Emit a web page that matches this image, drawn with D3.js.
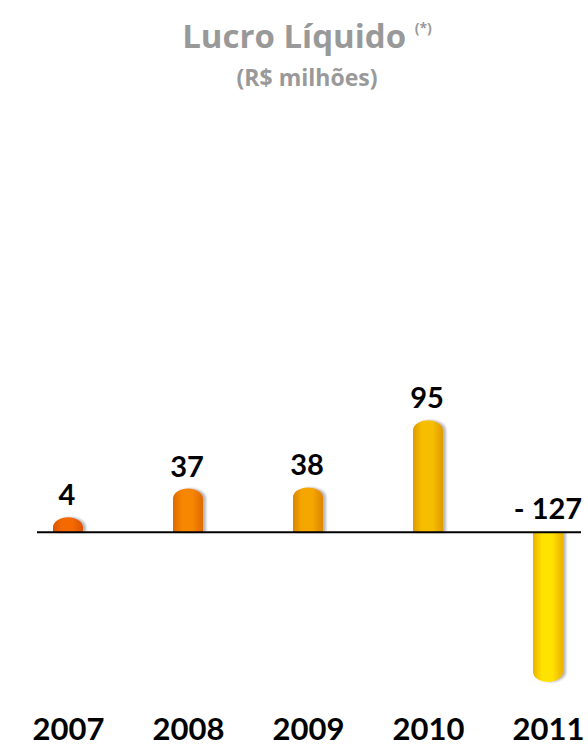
<!DOCTYPE html>
<html>
<head>
<meta charset="utf-8">
<script src="https://cdn.jsdelivr.net/npm/d3@7/dist/d3.min.js"></script>
<style>
  html, body { margin: 0; padding: 0; background: #ffffff; }
  svg { display: block; }
</style>
</head>
<body>
<svg id="chart" width="588" height="746"></svg>
<script>
// Net income by year (R$ millions)
const years = ["2007", "2008", "2009", "2010", "2011"];
const values = [4, 37, 38, 95, -127];
const valueLabels = ["4", "37", "38", "95", "- 127"];
// Bar fill: centre colour and edge colour for each year
const centreColors = ["#F46A00", "#F78600", "#F6A600", "#F7BE00", "#FFE200"];
const edgeColors = ["#D95400", "#DD6A00", "#DB8600", "#DE9A00", "#EDB000"];

const W = 588, H = 746;
const svg = d3.select("#chart");
const font = "Lato, 'Open Sans', 'DejaVu Sans', sans-serif";
const titleFont = "'Open Sans', Lato, 'DejaVu Sans', sans-serif";

const x = d3.scalePoint().domain(years).range([68, 548]);
const y = d3.scaleLinear().domain([-127, 95]).range([682, 420.2]);
const y0 = y(0);
const barW = 30, capRy = 10, minH = 15;

const defs = svg.append("defs");
years.forEach((yr, i) => {
  const g = defs.append("linearGradient")
    .attr("id", "grad" + i)
    .attr("x1", "0%").attr("x2", "100%").attr("y1", "0%").attr("y2", "0%");
  g.append("stop").attr("offset", "0%").attr("stop-color", edgeColors[i]);
  g.append("stop").attr("offset", "30%").attr("stop-color", centreColors[i]);
  g.append("stop").attr("offset", "65%").attr("stop-color", centreColors[i]);
  g.append("stop").attr("offset", "100%").attr("stop-color", edgeColors[i]);
});
const f = defs.append("filter").attr("id", "shadow")
  .attr("x", "-30%").attr("y", "-10%").attr("width", "160%").attr("height", "120%");
f.append("feDropShadow").attr("dx", 3).attr("dy", 0).attr("stdDeviation", 1.2)
  .attr("flood-color", "#808080").attr("flood-opacity", 0.55);

// Title
svg.append("text")
  .attr("x", 307).attr("y", 48)
  .attr("text-anchor", "middle")
  .attr("font-family", titleFont).attr("font-weight", 700)
  .attr("font-size", 33).attr("fill", "#999999")
  .text("Lucro Líquido ")
  .append("tspan")
  .attr("font-size", 14).attr("dy", -15)
  .text("(*)");

svg.append("text")
  .attr("x", 307).attr("y", 86)
  .attr("text-anchor", "middle")
  .attr("font-family", titleFont).attr("font-weight", 700)
  .attr("font-size", 23).attr("fill", "#999999")
  .text("(R$ milhões)");

// Rounded-end bar path, from the baseline to the value
function barPath(cx, v) {
  const yv = y(v);
  let h = Math.abs(yv - y0);
  h = Math.max(h, minH);
  const dir = v >= 0 ? -1 : 1;
  const end = y0 + dir * h;
  const ry = Math.min(capRy, h);
  const l = cx - barW / 2, r = cx + barW / 2;
  const sweep = v >= 0 ? 1 : 0;
  return `M${l},${y0} L${l},${end - dir * ry} A${barW / 2},${ry} 0 0 ${sweep} ${r},${end - dir * ry} L${r},${y0} Z`;
}

svg.append("g").selectAll("path")
  .data(values)
  .join("path")
  .attr("d", (v, i) => barPath(x(years[i]), v))
  .attr("fill", (v, i) => `url(#grad${i})`)
  .attr("filter", "url(#shadow)");

// Baseline
svg.append("line")
  .attr("x1", 37).attr("x2", 581)
  .attr("y1", y0).attr("y2", y0)
  .attr("stroke", "#000").attr("stroke-width", 1.8);

// Value labels
svg.append("g").selectAll("text")
  .data(values)
  .join("text")
  .attr("x", (v, i) => x(years[i]) + (v < 0 ? 0 : -1))
  .attr("y", (v, i) => v >= 0 ? Math.min(y(v), y0 - minH) - 12 : y0 - 13)
  .attr("text-anchor", "middle")
  .attr("font-family", font).attr("font-weight", 700)
  .attr("font-size", 29).attr("fill", "#000")
  .text((v, i) => valueLabels[i]);

// Year axis labels
const xAxis = d3.axisBottom(x).tickSize(0).tickPadding(0);
const axisG = svg.append("g").attr("transform", `translate(0,${H - 24})`).call(xAxis);
axisG.select(".domain").remove();
axisG.selectAll("text")
  .attr("dy", 0).attr("y", 18)
  .attr("font-family", font).attr("font-weight", 700)
  .attr("font-size", 31).attr("fill", "#000");
</script>
</body>
</html>
